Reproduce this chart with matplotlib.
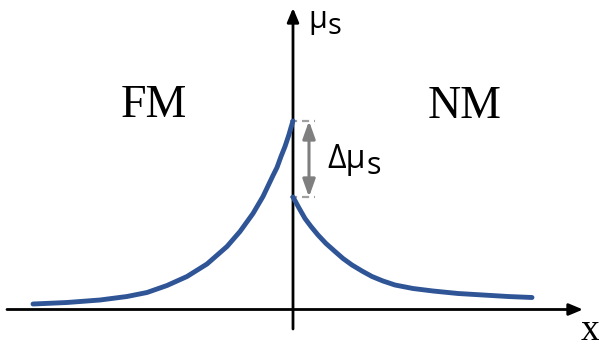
import matplotlib

matplotlib.use("Agg")
import matplotlib.pyplot as plt

# Spin accumulation profile across the FM/NM interface (origin at the interface).
# Distances and heights are in drawing units.
fm_x = [-260, -226, -193, -166, -146, -126, -106, -86, -66, -53, -40,
        -30, -20, -16, -12, -8, -4, -2, 0]
fm_mu = [5.5, 7, 9.5, 13, 17, 24, 33, 45.5, 63, 78, 96,
         113, 134, 142, 153, 163, 175, 182, 188.5]

nm_x = [0, 6, 12, 18, 25, 33, 42, 50, 59, 69, 79, 90, 102, 120, 140,
        165, 190, 215, 239]
nm_mu = [112.5, 101.5, 91, 83, 74.5, 66, 58, 51, 44.5, 38.5, 33, 28.5,
         24.5, 21, 18.5, 16, 14.5, 13, 12]

region_labels = ["FM", "NM"]

BLUE = "#2f5597"
GREY = "#7f7f7f"
DASH = "#a0a0a0"


def sub_text(ax, x, y, main, sub, size, sub_size, drop, family):
    """Draw main text with a lowered subscript right after it."""
    renderer = ax.figure.canvas.get_renderer()
    t = ax.text(x, y, main, fontsize=size, family=family, ha="left", va="baseline")
    bb = t.get_window_extent(renderer=renderer)
    x_end = ax.transData.inverted().transform((bb.x1, bb.y0))[0]
    ax.text(x_end + 1, y - drop, sub, fontsize=sub_size, family=family,
            ha="left", va="baseline")


fig = plt.figure(figsize=(5.99, 3.47), dpi=100)
ax = fig.add_axes([0, 0, 1, 1])
ax.set_xlim(-293, 306)
ax.set_ylim(-37.5, 309.5)
ax.axis("off")

axis_arrow = dict(arrowstyle="-|>,head_length=0.6,head_width=0.25",
                  mutation_scale=14, lw=2.0, color="black",
                  shrinkA=0, shrinkB=0)
ax.annotate("", xy=(290, 0), xytext=(-286, 0), arrowprops=axis_arrow)
ax.annotate("", xy=(0, 301.5), xytext=(0, -19.5), arrowprops=axis_arrow)

ax.plot(fm_x, fm_mu, color=BLUE, lw=3.5, solid_capstyle="round",
        solid_joinstyle="round", zorder=3)
ax.plot(nm_x, nm_mu, color=BLUE, lw=3.5, solid_capstyle="round",
        solid_joinstyle="round", zorder=3)

# splitting at the interface
top, bottom = fm_mu[-1], nm_mu[0]
for level in (top, bottom):
    ax.plot([-3, 22], [level, level], color=DASH, lw=1.6,
            dashes=(3.2, 2.2), zorder=2)
ax.annotate("", xy=(16, bottom), xytext=(16, top),
            arrowprops=dict(arrowstyle="<|-|>,head_length=0.7,head_width=0.25",
                            mutation_scale=15, lw=2.2, color=GREY,
                            shrinkA=0, shrinkB=0))

sans = ["Open Sans", "DejaVu Sans"]
sub_text(ax, 34, 141.5, "Δμ", "s", 23, 22, 6, sans)
sub_text(ax, 15, 282, "μ", "s", 22, 21, 6, sans)

ax.text(-139.5, 192.5, region_labels[0], fontsize=33, family="Liberation Serif",
        ha="center", va="baseline")
ax.text(172, 191.5, region_labels[1], fontsize=33, family="Liberation Serif",
        ha="center", va="baseline")
ax.text(297, -30.5, "x", fontsize=27, family="Liberation Serif",
        ha="center", va="baseline")

fig.savefig("out.png", dpi=100)
